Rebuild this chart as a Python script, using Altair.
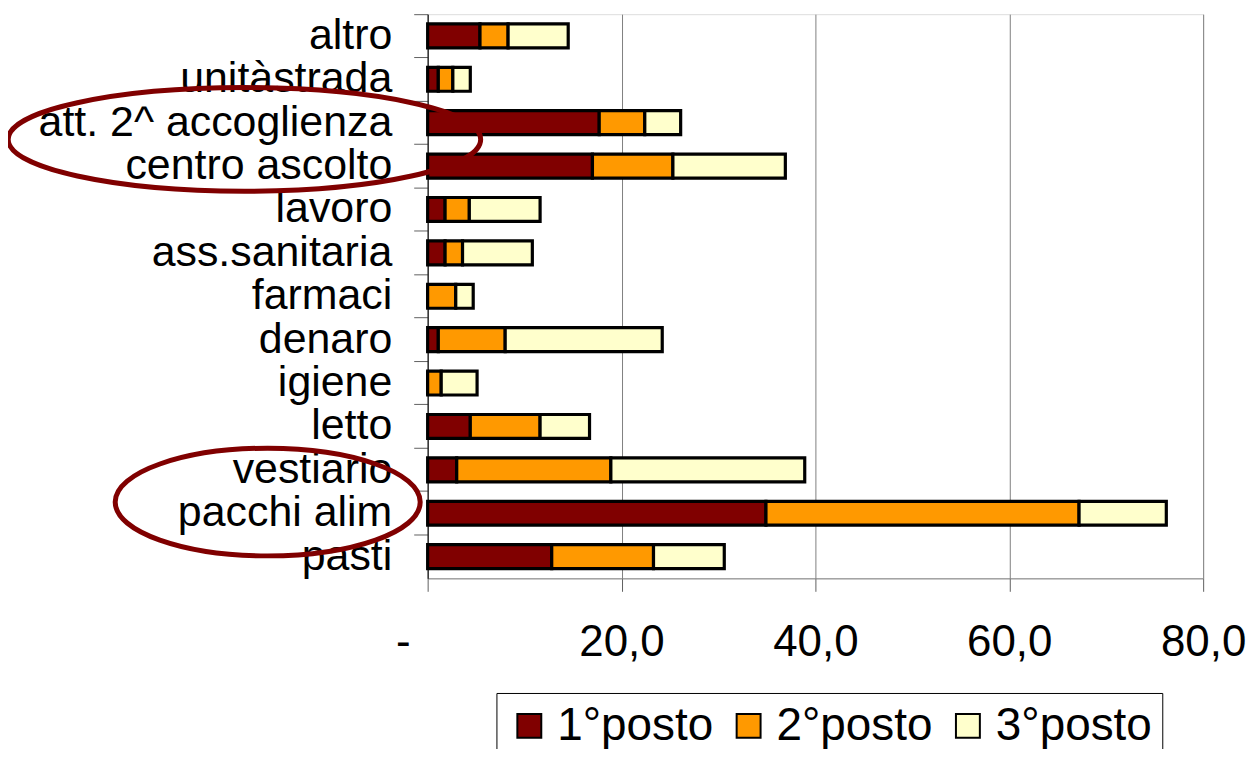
import altair as alt
import pandas as pd

categories = ["altro", "unitàstrada", "att. 2^ accoglienza", "centro ascolto", "lavoro",
              "ass.sanitaria", "farmaci", "denaro", "igiene", "letto", "vestiario",
              "pacchi alim", "pasti"]
posto1 = [5.4, 1.1, 17.7, 17.0, 1.8, 1.8, 0.0, 1.1, 0.0, 4.4, 3.0, 34.9, 12.8]
posto2 = [2.9, 1.5, 4.7, 8.3, 2.5, 1.8, 2.9, 6.9, 1.4, 7.2, 15.9, 32.3, 10.5]
posto3 = [6.2, 1.8, 3.7, 11.6, 7.3, 7.2, 1.8, 16.2, 3.7, 5.1, 20.0, 9.0, 7.3]
series = ["1°posto", "2°posto", "3°posto"]
colors = ["#800000", "#FF9900", "#FFFFCC"]
x_ticks = [0, 20, 40, 60, 80]

# annotation ellipses (circled labels)
ellipse_cats = ["centro ascolto", "pacchi alim"]
ellipse_x = [-18.9, -16.5]

FONT = "Liberation Sans"

rows = []
for i, c in enumerate(categories):
    for j, vals in enumerate([posto1, posto2, posto3]):
        rows.append({"cat": c, "serie": series[j], "val": vals[i], "ord": j})
df = pd.DataFrame(rows)

xscale = alt.Scale(domain=[0, 80], nice=False, zero=True)
yscale = alt.Scale(paddingInner=0, paddingOuter=0)

label_expr = "datum.value == 0 ? '-' : replace(format(datum.value, '.1f'), '.', ',')"

bars = alt.Chart(df).mark_bar(size=24, stroke="black", strokeWidth=3.2).encode(
    x=alt.X("val:Q", stack="zero", scale=xscale, title=None,
            axis=alt.Axis(values=x_ticks, labelExpr=label_expr, grid=True,
                          gridColor="#808080", gridOpacity=1, gridWidth=1,
                          domainColor="#808080", tickColor="#606060", tickSize=13,
                          labelPadding=29, labelFontSize=44, labelFont=FONT,
                          labelColor="black", labelFlush=False, labelOverlap=False,
                          labelOffset={"condition": {"test": "datum.value === 0", "value": -25},
                                       "value": 0})),
    y=alt.Y("cat:N", sort=categories, scale=yscale, title=None,
            axis=alt.Axis(bandPosition=0, tickSize=14, labelPadding=22,
                          domainColor="black", tickColor="#606060",
                          labelFontSize=43, labelFont=FONT, labelColor="black",
                          labelLimit=0, grid=False)),
    color=alt.Color("serie:N", scale=alt.Scale(domain=series, range=colors),
                    legend=alt.Legend(title=None, orient="none", legendX=69, legendY=681,
                                      direction="horizontal", symbolType="square",
                                      symbolSize=576, symbolStrokeColor="black",
                                      symbolStrokeWidth=2, symbolOpacity=1,
                                      labelFontSize=46, labelFont=FONT,
                                      labelColor="black", labelOffset=5,
                                      columnPadding=12, padding=10,
                                      strokeColor="black", labelLimit=0)),
    order=alt.Order("ord:Q"),
)

layers = [bars]
ell_specs = [
    ("M -1 0 A 1 0.2194 0 1 0 1 0 A 1 0.2194 0 1 0 -1 0 Z", 474 ** 2, -26.75),
    ("M -1 0 A 1 0.353 0 1 0 1 0 A 1 0.353 0 1 0 -1 0 Z", 306 ** 2, -11.25),
]
for k, (path, size, dy) in enumerate(ell_specs):
    edf = pd.DataFrame({"cat": [ellipse_cats[k]], "ex": [ellipse_x[k]]})
    layers.append(
        alt.Chart(edf).mark_point(shape=path, size=size, filled=False, stroke="#800000",
                                  strokeWidth=5, opacity=1, yOffset=dy).encode(
            x=alt.X("ex:Q", scale=xscale, title=None),
            y=alt.Y("cat:N", sort=categories, scale=yscale, title=None),
        )
    )

chart = alt.layer(*layers).properties(
    width=778, height=566,
    autosize=alt.AutoSizeParams(type="none"),
    padding={"left": 421, "top": 5, "right": 45, "bottom": 170},
).configure_view(strokeWidth=0).configure(font=FONT)

chart.save("out.html", embed_options={"renderer": "svg", "actions": False})
